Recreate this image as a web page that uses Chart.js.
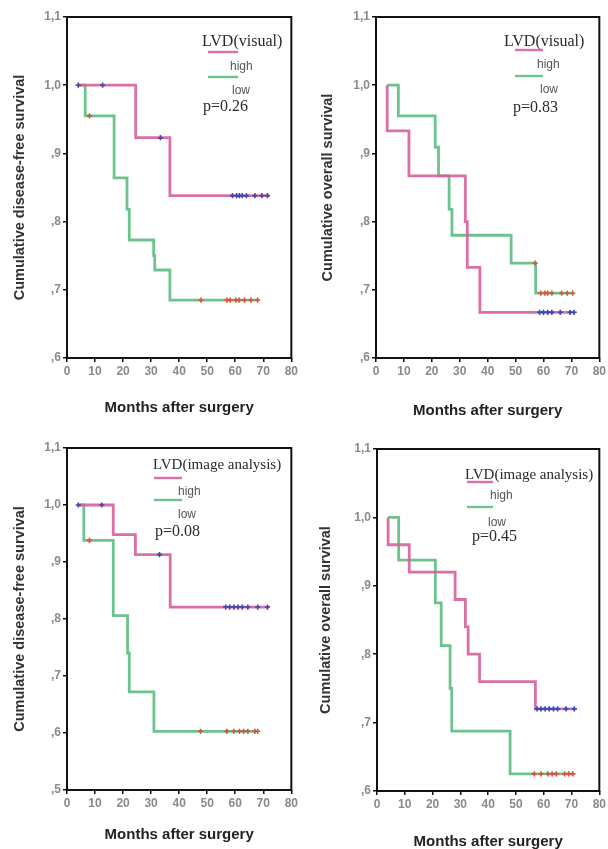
<!DOCTYPE html>
<html>
<head>
<meta charset="utf-8">
<script src="https://cdn.jsdelivr.net/npm/chart.js@4.4.1/dist/chart.umd.min.js"></script>
<style>
  html, body { margin: 0; padding: 0; background: #fff; }
  #wrap { position: relative; width: 608px; height: 849px; }
  canvas { position: absolute; }
</style>
</head>
<body>
<div id="wrap">
  <canvas id="c1" width="300" height="420" style="left:0;top:0"></canvas>
  <canvas id="c2" width="308" height="420" style="left:300px;top:0"></canvas>
  <canvas id="c3" width="300" height="429" style="left:0;top:420px"></canvas>
  <canvas id="c4" width="308" height="429" style="left:300px;top:420px"></canvas>
</div>
<script>
// [month, cumulative survival] at each step
var dfsVisualHigh = [[4, 1.0], [24.5, 0.923], [36.7, 0.838], [72, 0.838]];
var dfsVisualLow = [[4, 1.0], [6.5, 0.955], [16.8, 0.864], [21.4, 0.818], [22.2, 0.773], [30.9, 0.75], [31.3, 0.729], [36.7, 0.685], [68, 0.685]];
var dfsVisualHighCens = [4, 12.7, 33.3, 59, 60.5, 61.5, 62.5, 64, 67, 69.5, 71.5];
var dfsVisualLowCens = [8, 47.8, 57, 58.2, 60.2, 61.4, 63.3, 65.6, 68];

var osVisualHigh = [[4, 1.0], [4, 0.933], [11.8, 0.867], [32, 0.8], [32.7, 0.733], [37.2, 0.667], [71, 0.667]];
var osVisualLow = [[4, 1.0], [8, 0.955], [21.2, 0.909], [22.4, 0.867], [26.2, 0.818], [27.2, 0.78], [48.4, 0.739], [57.2, 0.695], [70.5, 0.695]];
var osVisualHighCens = [58.6, 60, 61.5, 63, 66, 69.5, 71];
var osVisualLowCens = [57, 59, 60.5, 61.5, 63, 66.5, 68.5, 70.5];

var dfsImageHigh = [[4, 1.0], [16.5, 0.948], [24.4, 0.913], [36.8, 0.821], [72, 0.821]];
var dfsImageLow = [[4, 1.0], [6, 0.938], [16.5, 0.806], [21.6, 0.74], [22.2, 0.672], [31, 0.603], [68, 0.603]];
var dfsImageHighCens = [4, 12.4, 33, 56.6, 58, 59.5, 61, 62.5, 64.5, 68, 71.5];
var dfsImageLowCens = [8, 47.6, 57, 59.5, 61.5, 63, 64.5, 67, 68];

var osImageHigh = [[4, 1.0], [4, 0.96], [11.6, 0.92], [28.1, 0.88], [31.8, 0.84], [32.8, 0.8], [36.9, 0.76], [57, 0.72], [71, 0.72]];
var osImageLow = [[4, 1.0], [7.8, 0.9375], [21, 0.875], [23.1, 0.8125], [26.3, 0.75], [26.9, 0.6875], [47.9, 0.625], [70.5, 0.625]];
var osImageHighCens = [57.6, 59, 60.5, 62, 63.5, 65, 68, 71];
var osImageLowCens = [56.6, 59, 61.5, 63, 64.5, 67.5, 69, 70.5];

var groupLabels = ['high', 'low'];
var xTitle = 'Months after surgery';

var PINK = 'rgba(214, 96, 156, 0.9)';
var GREEN = 'rgba(92, 188, 128, 0.9)';
var BLUE = '#3c46b4';
var RED = '#e0503c';
var SANS = '"Liberation Sans", Arial, sans-serif';
var SERIF = '"Liberation Serif", "Times New Roman", serif';

function survivalAt (curve, t) {
  var s = curve[0][1];
  curve.forEach(function (p) { if (p[0] <= t) s = p[1]; });
  return s;
}

function stepLine (curve, color) {
  return {
    data: curve.map(function (p) { return {x: p[0], y: p[1]}; }),
    showLine: true,
    stepped: true,
    borderColor: color,
    borderWidth: 2.8,
    pointRadius: 0,
    order: 1,
  };
}

function censorMarks (months, curve, color) {
  return {
    data: months.map(function (m) { return {x: m, y: survivalAt(curve, m)}; }),
    showLine: false,
    pointStyle: 'cross',
    pointRadius: 2.6,
    borderWidth: 1.6,
    borderColor: color,
    backgroundColor: color,
    order: 0,
  };
}

// black box round the plot area
var framePlugin = {
  id: 'frame',
  afterDraw: function (chart) {
    var a = chart.chartArea, ctx = chart.ctx;
    ctx.save();
    ctx.strokeStyle = '#111';
    ctx.lineWidth = 2;
    ctx.strokeRect(a.left, a.top, a.right - a.left, a.bottom - a.top);
    ctx.restore();
  }
};

// the LVD / high / low / p block inside each plot
var kmLegendPlugin = {
  id: 'kmLegend',
  afterDraw: function (chart, args, o) {
    var ctx = chart.ctx;
    ctx.save();
    ctx.textBaseline = 'middle';
    ctx.textAlign = 'left';
    ctx.fillStyle = '#2a2a2a';
    ctx.font = o.titleSize + 'px ' + SERIF;
    ctx.fillText(o.title, o.x, o.y);
    ctx.lineWidth = 2.4;
    ctx.strokeStyle = PINK;
    ctx.beginPath(); ctx.moveTo(o.x + o.seg[0], o.y + o.rows[0]); ctx.lineTo(o.x + o.seg[1], o.y + o.rows[0]); ctx.stroke();
    ctx.strokeStyle = GREEN;
    ctx.beginPath(); ctx.moveTo(o.x + o.seg[0], o.y + o.rows[2]); ctx.lineTo(o.x + o.seg[1], o.y + o.rows[2]); ctx.stroke();
    ctx.fillStyle = '#555';
    ctx.font = '12px ' + SANS;
    ctx.fillText(groupLabels[0], o.x + o.labelX[0], o.y + o.rows[1]);
    ctx.fillText(groupLabels[1], o.x + o.labelX[1], o.y + o.rows[3]);
    ctx.fillStyle = '#2a2a2a';
    ctx.font = '16px ' + SERIF;
    ctx.fillText(o.p, o.x + o.pX, o.y + o.rows[4]);
    ctx.restore();
  }
};

function kmChart (id, cfg) {
  var canvas = document.getElementById(id);
  var W = canvas.width, H = canvas.height, a = cfg.area;
  var xh = cfg.titleY - a.bottom + 7.5;
  new Chart(canvas, {
    type: 'scatter',
    data: {
      datasets: [
        stepLine(cfg.high, PINK),
        stepLine(cfg.low, GREEN),
        censorMarks(cfg.highCens, cfg.high, BLUE),
        censorMarks(cfg.lowCens, cfg.low, RED),
      ],
    },
    options: {
      responsive: false,
      animation: false,
      layout: {
        padding: {left: 0, top: a.top, right: W - a.right, bottom: H - a.bottom - xh},
      },
      scales: {
        x: {
          type: 'linear',
          min: 0,
          max: 80,
          afterFit: function (s) { s.height = xh; },
          border: {display: false},
          grid: {drawOnChartArea: false, drawTicks: true, tickLength: 4, color: '#111', lineWidth: 1.5},
          ticks: {stepSize: 10, padding: 2, color: '#8a8a8a', font: {family: SANS, size: 12, weight: 'bold'}},
          title: {display: true, text: xTitle, color: '#222', padding: 0,
                  font: {family: SANS, size: 15, weight: 'bold', lineHeight: 1}},
        },
        y: {
          min: cfg.yMin,
          max: 1.1,
          afterFit: function (s) { s.width = a.left; },
          border: {display: false},
          grid: {drawOnChartArea: false, drawTicks: true, tickLength: 4, color: '#111', lineWidth: 1.5},
          ticks: {
            stepSize: 0.1,
            padding: 2,
            color: '#8a8a8a',
            font: {family: SANS, size: 12, weight: 'bold'},
            callback: function (v) { return v.toFixed(1).replace('.', ',').replace(/^0/, ''); },
          },
          title: {display: true, text: cfg.yTitle, color: '#333', padding: {top: cfg.yTitleX - 8.7, bottom: 0},
                  font: {family: SANS, size: 14.5, weight: 'bold'}},
        },
      },
      plugins: {
        legend: {display: false},
        tooltip: {enabled: false},
        kmLegend: cfg.legend,
      },
    },
    plugins: [framePlugin, kmLegendPlugin],
  });
}

kmChart('c1', {
  high: dfsVisualHigh, low: dfsVisualLow, highCens: dfsVisualHighCens, lowCens: dfsVisualLowCens,
  yMin: 0.6, yTitle: 'Cumulative disease-free survival',
  area: {left: 67, top: 17, right: 293, bottom: 358}, titleY: 408, yTitleX: 20,
  legend: {title: 'LVD(visual)', p: 'p=0.26', titleSize: 16, x: 202, y: 42,
           seg: [6, 36], rows: [10, 25, 35, 49, 65], labelX: [28, 30], pX: 1},
});

kmChart('c2', {
  high: osVisualHigh, low: osVisualLow, highCens: osVisualHighCens, lowCens: osVisualLowCens,
  yMin: 0.6, yTitle: 'Cumulative overall survival',
  area: {left: 76, top: 17, right: 302, bottom: 358}, titleY: 411, yTitleX: 28,
  legend: {title: 'LVD(visual)', p: 'p=0.83', titleSize: 16, x: 204, y: 42,
           seg: [11, 39], rows: [8, 23, 34, 48, 66], labelX: [33, 36], pX: 9},
});

kmChart('c3', {
  high: dfsImageHigh, low: dfsImageLow, highCens: dfsImageHighCens, lowCens: dfsImageLowCens,
  yMin: 0.5, yTitle: 'Cumulative disease-free survival',
  area: {left: 67, top: 28, right: 293, bottom: 370}, titleY: 415, yTitleX: 20,
  legend: {title: 'LVD(image analysis)', p: 'p=0.08', titleSize: 15, x: 153, y: 45,
           seg: [1, 29], rows: [13, 27, 35, 50, 67], labelX: [25, 25], pX: 2},
});

kmChart('c4', {
  high: osImageHigh, low: osImageLow, highCens: osImageHighCens, lowCens: osImageLowCens,
  yMin: 0.6, yTitle: 'Cumulative overall survival',
  area: {left: 77, top: 29, right: 303, bottom: 371}, titleY: 422, yTitleX: 26,
  legend: {title: 'LVD(image analysis)', p: 'p=0.45', titleSize: 15, x: 165, y: 55,
           seg: [2, 28], rows: [7, 21, 32, 48, 62], labelX: [25, 23], pX: 7},
});
</script>
</body>
</html>
